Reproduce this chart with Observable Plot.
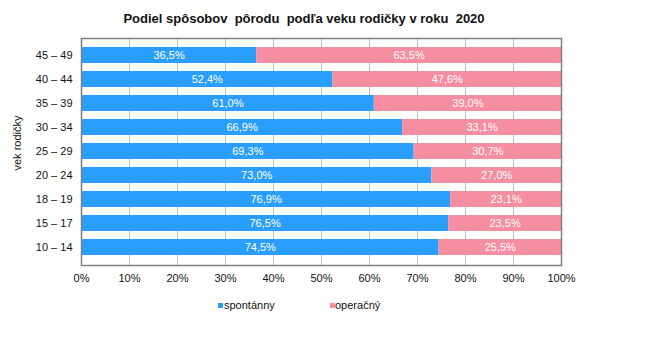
<!DOCTYPE html>
<html>
<head>
<meta charset="utf-8">
<script src="https://cdn.jsdelivr.net/npm/d3@7"></script>
<script src="https://cdn.jsdelivr.net/npm/@observablehq/plot@0.6"></script>
<style>
  html, body { margin: 0; padding: 0; background: #fff; }
  #wrap { position: relative; width: 650px; height: 351px; font-family: "Liberation Sans", Arial, sans-serif; }
  #title { position: absolute; left: 104px; width: 400px; top: 11px; text-align: center; font-size: 13px; line-height: 16px; font-weight: bold; color: #111; white-space: nowrap; }
  .li { position: absolute; top: 298px; height: 14px; line-height: 14px; font-size: 11px; color: #111; white-space: nowrap; }
  .sw { position: absolute; width: 5px; height: 5px; top: 5px; }
  #ylab { position: absolute; left: 17px; top: 143px; transform: translate(-50%,-50%) rotate(-90deg); font-size: 11px; line-height: 12px; color: #111; white-space: nowrap; }
</style>
</head>
<body>
<div id="wrap">
  <div id="chart"></div>
  <div id="title">Podiel spôsobov&nbsp; pôrodu&nbsp; podľa veku rodičky v roku&nbsp; 2020</div>
</div>
<script>
const categories = ["45 – 49", "40 – 44", "35 – 39", "30 – 34", "25 – 29", "20 – 24", "18 – 19", "15 – 17", "10 – 14"];
const spontanny = [36.5, 52.4, 61.0, 66.9, 69.3, 73.0, 76.9, 76.5, 74.5];
const operacny = [63.5, 47.6, 39.0, 33.1, 30.7, 27.0, 23.1, 23.5, 25.5];
const seriesNames = ["spontánny", "operačný"];
const colors = ["#2a9efe", "#f68ea2"];
const xTicks = [0, 10, 20, 30, 40, 50, 60, 70, 80, 90, 100];
const yAxisTitle = "vek rodičky";

const data = [];
categories.forEach((c, i) => {
  data.push({cat: c, series: seriesNames[0], value: spontanny[i]});
  data.push({cat: c, series: seriesNames[1], value: operacny[i]});
});
const fmt = v => v.toFixed(1).replace(".", ",") + "%";

const chart = Plot.plot({
  width: 650,
  height: 351,
  marginLeft: 81,
  marginRight: 89,
  marginTop: 38,
  marginBottom: 86,
  style: {fontFamily: "'Liberation Sans', Arial, sans-serif", fontSize: "11px", color: "#111", background: "#fff"},
  x: {domain: [0, 100], ticks: xTicks, tickFormat: d => d + "%", label: null, tickSize: 0, tickPadding: 9},
  y: {domain: categories, label: null, tickSize: 0, tickPadding: 9, padding: 0.33},
  color: {domain: seriesNames, range: colors},
  marks: [
    Plot.ruleX(xTicks, {stroke: "#c0c0c0", strokeWidth: 1}),
    Plot.barX(data, Plot.stackX({x: "value", y: "cat", fill: "series", order: seriesNames})),
    Plot.text(data, Plot.stackX({x: "value", y: "cat", z: "series", order: seriesNames, text: d => fmt(d.value), fill: "white", fontSize: 11})),
    Plot.frame({stroke: "#808080", strokeWidth: 1.5})
  ]
});
document.getElementById("chart").appendChild(chart);

const wrap = document.getElementById("wrap");
const ylab = document.createElement("div");
ylab.id = "ylab";
ylab.textContent = yAxisTitle;
wrap.appendChild(ylab);

const lx = [218, 330];
seriesNames.forEach((s, i) => {
  const item = document.createElement("div");
  item.className = "li";
  item.style.left = lx[i] + "px";
  item.innerHTML = `<span class="sw" style="background:${colors[i]}"></span><span style="margin-left:${i === 0 ? 6 : 5}px">${s}</span>`;
  wrap.appendChild(item);
});
</script>
</body>
</html>
